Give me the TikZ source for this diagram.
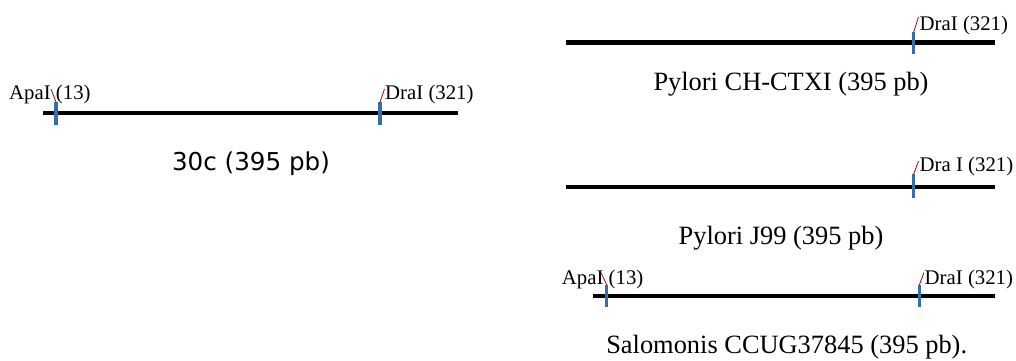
\documentclass[tikz,border=0pt]{standalone}
\usepackage{fontspec}
\setmainfont{Liberation Serif}
\newfontfamily\capsans{DejaVu Sans}
\definecolor{tickblue}{RGB}{54,110,168}
\definecolor{leadred}{RGB}{192,0,0}
\begin{document}
\begin{tikzpicture}[x=1pt,y=-1pt,
  dna/.style={line width=4.2pt,black},
  site/.style={line width=3.4pt,tickblue},
  lead/.style={line width=0.8pt,leadred},
  lab/.style={inner sep=0pt,anchor=base west,font=\fontsize{20.8}{24}\selectfont},
  captext/.style={inner sep=0pt,anchor=base,font=\fontsize{26.4}{30}\selectfont},
  capsf/.style={inner sep=0pt,anchor=base,font=\capsans\fontsize{24.6}{28}\selectfont}]
\useasboundingbox (0,0) rectangle (1016,360);
% ---- 30c ----
\coordinate (a1) at (43,113); \coordinate (a2) at (458,113);
\draw[dna] (a1) -- (a2);
\coordinate (at1) at (56,102); \coordinate (ab1) at (56,125);
\coordinate (at2) at (380,102); \coordinate (ab2) at (380,125);
\draw[site] (at1) -- (ab1);
\draw[site] (at2) -- (ab2);
\node[lab] (aL1) at (9,99) {ApaI (13)};
\node[lab] (aL2) at (385,99) {DraI (321)};
\coordinate (ae1) at (51,89); \coordinate (ae2) at (384.5,89);
\draw[lead] (at1) -- (ae1);
\draw[lead] (at2) -- (ae2);
\node[capsf] (aC) at (251,170) {30c (395 pb)};
% ---- Pylori CH-CTXI ----
\coordinate (b1) at (566,42.5); \coordinate (b2) at (995,42.5);
\draw[dna] (b1) -- (b2);
\coordinate (bt) at (913.7,32); \coordinate (bb) at (913.7,54);
\draw[site] (bt) -- (bb);
\coordinate (be) at (918.5,17);
\draw[lead] (bt) -- (be);
\node[lab] (bL) at (919.5,30) {DraI (321)};
\node[captext] (bC) at (791,90) {Pylori CH-CTXI (395 pb)};
% ---- Pylori J99 ----
\coordinate (c1) at (566,186.7); \coordinate (c2) at (995,186.7);
\draw[dna] (c1) -- (c2);
\coordinate (ct) at (913.7,174); \coordinate (cb) at (913.7,198);
\draw[site] (ct) -- (cb);
\coordinate (ce) at (918.5,161);
\draw[lead] (ct) -- (ce);
\node[lab] (cL) at (919.5,171) {Dra I (321)};
\node[captext] (cC) at (781,244.5) {Pylori J99 (395 pb)};
% ---- Salomonis ----
\coordinate (d1) at (593,295.7); \coordinate (d2) at (995,295.7);
\draw[dna] (d1) -- (d2);
\coordinate (dt1) at (606.7,285); \coordinate (db1) at (606.7,307);
\coordinate (dt2) at (919.3,285); \coordinate (db2) at (919.3,307);
\draw[site] (dt1) -- (db1);
\draw[site] (dt2) -- (db2);
\coordinate (de1) at (601,272.5); \coordinate (de2) at (924,272.5);
\draw[lead] (dt1) -- (de1);
\draw[lead] (dt2) -- (de2);
\node[lab] (dL1) at (561.7,284) {ApaI (13)};
\node[lab] (dL2) at (924.5,284) {DraI (321)};
\node[captext] (dC) at (786.7,353.5) {Salomonis CCUG37845 (395 pb).};
\end{tikzpicture}
\end{document}
